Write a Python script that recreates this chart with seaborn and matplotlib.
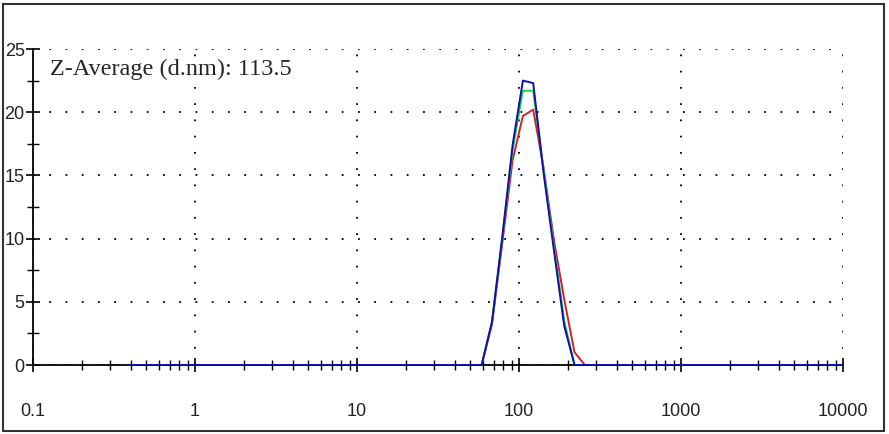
import numpy as np
import pandas as pd
import seaborn as sns
import matplotlib
matplotlib.use("Agg")
import matplotlib.pyplot as plt
from matplotlib.ticker import FixedLocator, NullFormatter, FixedFormatter

# ---- data ----
size_nm = [0.4, 58.8, 68.1, 78.8, 91.3, 105.7, 122.4, 141.8, 164.2, 190.1, 220.2, 255.0, 10000]
record_red = [0, 0, 3.2, 9.6, 16.2, 19.7, 20.2, 15.6, 9.9, 5.2, 1.0, 0, 0]
record_green = [0, 0, 3.4, 10.0, 17.0, 21.7, 21.7, 15.5, 9.4, 3.5, 0, 0, 0]
record_blue = [0, 0, 3.4, 10.1, 17.4, 22.5, 22.3, 15.2, 9.1, 3.1, 0, 0, 0]
x_ticks = [0.1, 1, 10, 100, 1000, 10000]
x_tick_labels = ["0.1", "1", "10", "100", "1000", "10000"]
y_ticks = [0, 5, 10, 15, 20, 25]
annotation = "Z-Average (d.nm): 113.5"

df = pd.concat([
    pd.DataFrame({"size": size_nm, "intensity": record_red, "rec": "r"}),
    pd.DataFrame({"size": size_nm, "intensity": record_green, "rec": "g"}),
    pd.DataFrame({"size": size_nm, "intensity": record_blue, "rec": "b"}),
])

sns.set_style("white")
plt.rcParams["font.family"] = ["Liberation Sans", "DejaVu Sans"]

fig = plt.figure(figsize=(8.89, 4.34), dpi=100)
ax = fig.add_axes([33 / 889, 69 / 434, 810 / 889, 316 / 434])

sns.lineplot(data=df, x="size", y="intensity", hue="rec",
             palette={"r": "#d42020", "g": "#20d040", "b": "#1010b0"},
             hue_order=["r", "g", "b"], ax=ax, legend=False,
             linewidth=1.4, estimator=None, sort=False, zorder=5)

ax.set_xscale("log")
ax.set_xlim(0.1, 10000)
ax.set_ylim(0, 25)
ax.set_xlabel("")
ax.set_ylabel("")

for s in ["top", "right"]:
    ax.spines[s].set_visible(False)
for s in ["left", "bottom"]:
    ax.spines[s].set_color("black")
    ax.spines[s].set_linewidth(1.3)

ax.xaxis.set_major_locator(FixedLocator(x_ticks))
ax.xaxis.set_major_formatter(FixedFormatter(x_tick_labels))
minors = [m * 10.0 ** e for e in range(-1, 4) for m in range(2, 10)]
ax.xaxis.set_minor_locator(FixedLocator(minors))
ax.xaxis.set_minor_formatter(NullFormatter())
ax.yaxis.set_major_locator(FixedLocator(y_ticks))
ax.yaxis.set_minor_locator(FixedLocator([2.5, 7.5, 12.5, 17.5, 22.5]))

ax.tick_params(axis="x", which="major", direction="inout", length=10, width=1.2,
               color="black", labelsize=13, labelcolor="#222222", pad=22, bottom=True)
ax.tick_params(axis="x", which="minor", direction="inout", length=7, width=1.0,
               color="black", bottom=True)
ax.tick_params(axis="y", which="major", direction="inout", length=10, width=1.2,
               color="black", labelsize=13, labelcolor="#222222", pad=1, left=True)
ax.tick_params(axis="y", which="minor", direction="inout", length=8, width=1.0,
               color="black", left=True)

ax.grid(True, which="major", color="black", linestyle=(0, (1, 8)), linewidth=1.3)

ax.text(0.021, 0.934, annotation, transform=ax.transAxes, ha="left", va="center",
        fontsize=17.5, family=["Liberation Serif", "DejaVu Serif"], zorder=6)

# outer frame
fig.patches.append(plt.Rectangle((2.5 / 889, 3.5 / 434), 881 / 889, 427 / 434,
                                 transform=fig.transFigure, fill=False,
                                 edgecolor="#333333", linewidth=1.5))

fig.savefig("out.png", dpi=100)
